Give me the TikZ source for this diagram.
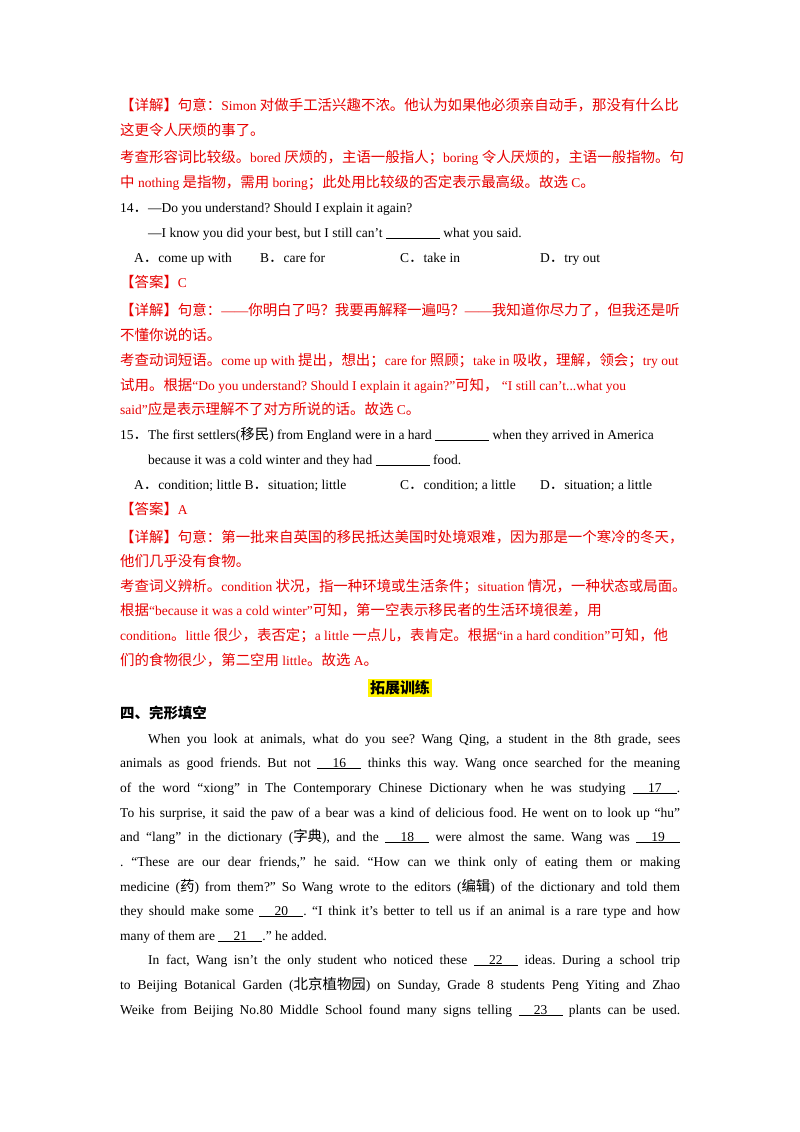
\documentclass[tikz,border=0pt]{standalone}
\usepackage{fontspec}
\setmainfont{Liberation Serif}
\newfontfamily\latfont{Liberation Serif}
\newfontfamily\cjkfont[Scale=1.07]{Noto Sans CJK SC}
\XeTeXinterchartokenstate=1
\newXeTeXintercharclass\cjkclass
\newcount\mycnt
\mycnt="4E00 \loop \XeTeXcharclass\mycnt=\cjkclass \advance\mycnt 1 \ifnum\mycnt<"A000 \repeat
\mycnt="3000 \loop \XeTeXcharclass\mycnt=\cjkclass \advance\mycnt 1 \ifnum\mycnt<"3040 \repeat
\mycnt="FF00 \loop \XeTeXcharclass\mycnt=\cjkclass \advance\mycnt 1 \ifnum\mycnt<"FFF0 \repeat
\XeTeXinterchartoks 0 \cjkclass = {\cjkfont}
\XeTeXinterchartoks 4095 \cjkclass = {\cjkfont}
\XeTeXinterchartoks \cjkclass 0 = {\latfont}
\XeTeXinterchartoks \cjkclass 4095 = {\latfont}
\definecolor{ans}{RGB}{230,0,0}
\newcommand{\blk}[1]{\underline{\makebox[44pt]{#1}}}
\frenchspacing
\begin{document}
\begin{tikzpicture}[x=1pt,y=-1pt,
  ln/.style={anchor=base west,inner sep=0pt,font=\fontsize{13.5}{16}\selectfont\frenchspacing},
  rd/.style={ln,text=ans}]
\useasboundingbox (0,0) rectangle (800,1132);
\node[rd] (l1) at (120,110) {【详解】句意：Simon 对做手工活兴趣不浓。他认为如果他必须亲自动手，那没有什么比};
\node[rd] (l2) at (120,135) {这更令人厌烦的事了。};
\node[rd] (l3) at (120,162) {考查形容词比较级。bored 厌烦的，主语一般指人；boring 令人厌烦的，主语一般指物。句};
\node[rd] (l4) at (120,187) {中 nothing 是指物，需用 boring；此处用比较级的否定表示最高级。故选 C。};
\node[ln] (l5) at (120,212) {14．—Do you understand? Should I explain it again?};
\node[ln] (l6) at (148,237) {—I know you did your best, but I still can’t \underline{\hspace{54pt}} what you said.};
\node[ln] (l7a) at (134,262) {A．come up with};
\node[ln] (l7b) at (260,262) {B．care for};
\node[ln] (l7c) at (400,262) {C．take in};
\node[ln] (l7d) at (540,262) {D．try out};
\node[rd] (l8) at (120,287) {【答案】C};
\node[rd] (l9) at (120,315) {【详解】句意：——你明白了吗？我要再解释一遍吗？——我知道你尽力了，但我还是听};
\node[rd] (l10) at (120,340) {不懂你说的话。};
\node[rd] (l11) at (120,365) {考查动词短语。come up with 提出，想出；care for 照顾；take in 吸收，理解，领会；try out};
\node[rd] (l12) at (120,390) {试用。根据“Do you understand? Should I explain it again?”可知， “I still can’t...what you};
\node[rd] (l13) at (120,414) {said”应是表示理解不了对方所说的话。故选 C。};
\node[ln] (l14) at (120,439) {15．The first settlers(移民) from England were in a hard \underline{\hspace{54pt}} when they arrived in America};
\node[ln] (l15) at (148,464) {because it was a cold winter and they had \underline{\hspace{54pt}} food.};
\node[ln] (l16a) at (134,489) {A．condition; little B．situation; little};
\node[ln] (l16c) at (400,489) {C．condition; a little};
\node[ln] (l16d) at (540,489) {D．situation; a little};
\node[rd] (l17) at (120,514) {【答案】A};
\node[rd] (l18) at (120,542) {【详解】句意：第一批来自英国的移民抵达美国时处境艰难，因为那是一个寒冷的冬天，};
\node[rd] (l19) at (120,566) {他们几乎没有食物。};
\node[rd] (l20) at (120,591) {考查词义辨析。condition 状况，指一种环境或生活条件；situation 情况，一种状态或局面。};
\node[rd] (l21) at (120,615) {根据“because it was a cold winter”可知，第一空表示移民者的生活环境很差，用};
\node[rd] (l22) at (120,640) {condition。little 很少，表否定；a little 一点儿，表肯定。根据“in a hard condition”可知，他};
\node[rd] (l23) at (120,665) {们的食物很少，第二空用 little。故选 A。};
\node[fill=yellow,inner sep=2pt,font=\fontsize{14}{16}\selectfont\bfseries] (hd) at (400,688) {拓展训练};
\node[ln,font=\fontsize{13.5}{16}\selectfont\bfseries] (l25) at (120,718) {四、完形填空};
\node[ln] (p1) at (148,743) {\makebox[532pt][s]{When you look at animals, what do you see? Wang Qing, a student in the 8th grade, sees}};
\node[ln] (p2) at (120,767) {\makebox[560pt][s]{animals as good friends. But not \blk{16} thinks this way. Wang once searched for the meaning}};
\node[ln] (p3) at (120,792) {\makebox[560pt][s]{of the word “xiong” in The Contemporary Chinese Dictionary when he was studying \blk{17}.}};
\node[ln] (p4) at (120,817) {\makebox[560pt][s]{To his surprise, it said the paw of a bear was a kind of delicious food. He went on to look up “hu”}};
\node[ln] (p5) at (120,841) {\makebox[560pt][s]{and “lang” in the dictionary (字典), and the \blk{18} were almost the same. Wang was \blk{19}}};
\node[ln] (p6) at (120,866) {\makebox[560pt][s]{. “These are our dear friends,” he said. “How can we think only of eating them or making}};
\node[ln] (p7) at (120,891) {\makebox[560pt][s]{medicine (药) from them?” So Wang wrote to the editors (编辑) of the dictionary and told them}};
\node[ln] (p8) at (120,915) {\makebox[560pt][s]{they should make some \blk{20}. “I think it’s better to tell us if an animal is a rare type and how}};
\node[ln] (p9) at (120,940) {many of them are \blk{21}.” he added.};
\node[ln] (p10) at (148,964) {\makebox[532pt][s]{In fact, Wang isn’t the only student who noticed these \blk{22} ideas. During a school trip}};
\node[ln] (p11) at (120,989) {\makebox[560pt][s]{to Beijing Botanical Garden (北京植物园) on Sunday, Grade 8 students Peng Yiting and Zhao}};
\node[ln] (p12) at (120,1014) {\makebox[560pt][s]{Weike from Beijing No.80 Middle School found many signs telling \blk{23} plants can be used.}};
\end{tikzpicture}
\end{document}
